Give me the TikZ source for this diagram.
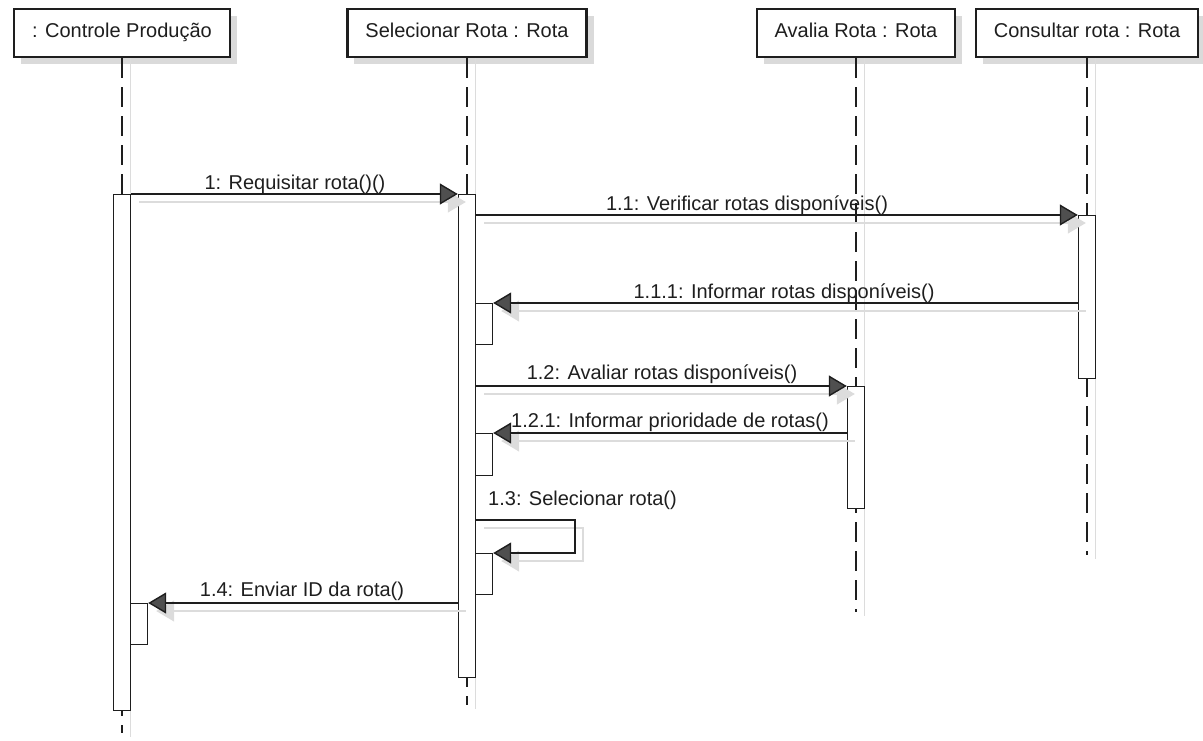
\documentclass[tikz,border=0pt]{standalone}
\usepackage{fontspec}
\setmainfont{Liberation Sans}
\usetikzlibrary{arrows.meta,shadows}
\definecolor{ink}{HTML}{1E1E1E}
\definecolor{shade}{HTML}{DADADA}
\definecolor{lineshade}{HTML}{DCDCDC}
\definecolor{tipgray}{HTML}{4F4F4F}
\tikzset{
  objbox/.style={draw=ink,fill=white,line width=2.2pt,inner xsep=18pt,minimum height=48pt,
    text height=14pt,text depth=6pt,font=\fontsize{20}{24}\selectfont,text=ink,
    drop shadow={shadow xshift=7pt,shadow yshift=-7pt,fill=shade,opacity=1}},
  lifeline/.style={draw=ink,line width=1.6pt,dash pattern=on 20pt off 9pt},
  lifeshade/.style={draw=lineshade,line width=1.6pt},
  actbox/.style={draw=ink,fill=white,line width=1.4pt,minimum width=17pt,inner sep=0pt,anchor=north},
  msgarr/.style={-{Triangle[length=18pt,width=21pt,fill=tipgray]},line width=1.4pt,draw=ink},
  msgshade/.style={-{Triangle[length=18pt,width=21pt,fill=lineshade]},line width=1.4pt,draw=lineshade},
  msglbl/.style={font=\fontsize{20}{24}\selectfont,text=ink,inner sep=0pt,anchor=base}
}

\begin{document}
\begin{tikzpicture}[x=1pt,y=-1pt]
  \useasboundingbox (0,0) rectangle (1203,740);
  % objects
  \node[objbox] (ctrl) at (122,33) {: Controle Produção};
  \node[objbox] (sel) at (467,33) {Selecionar Rota : Rota};
  \node[objbox] (aval) at (856,33) {Avalia Rota : Rota};
  \node[objbox] (cons) at (1087,33) {Consultar rota : Rota};

  % lifelines
  \coordinate (ctrlend) at (122,733);
  \coordinate (selend) at (467,705);
  \coordinate (avalend) at (856,612);
  \coordinate (consend) at (1087,555);
  \foreach \obj in {ctrl,sel,aval,cons}{
    \draw[lifeshade] ([xshift=8.5pt]\obj.south) -- ([shift={(8.5pt,-4pt)}]\obj end);
    \draw[lifeline] (\obj.south) -- (\obj end);
  }

  % activations
  \node[actbox,minimum height=516pt] (actctrl) at (122,194) {};
  \node[actbox,minimum height=483pt] (actsel) at (467,194) {};
  \node[actbox,minimum height=163pt] (actcons) at (1087,215) {};
  \node[actbox,minimum height=122pt] (actaval) at (856,386) {};
  \node[actbox,minimum height=41pt] (selret1) at (484,303) {};
  \node[actbox,minimum height=42pt] (selret2) at (484,433) {};
  \node[actbox,minimum height=41pt] (selself) at (484,553) {};
  \node[actbox,minimum height=41pt] (ctrlret) at (139,603) {};
  \coordinate (loopA) at (575,520);

  % message shadows
  \begin{scope}[transform canvas={shift={(8pt,-8pt)}}]
    \draw[msgshade] (actctrl.north east) -- (actsel.north west);
    \draw[msgshade] (actsel.east |- actcons.north) -- (actcons.north west);
    \draw[msgshade] (actcons.west |- selret1.north) -- (selret1.north east);
    \draw[msgshade] (actsel.east |- actaval.north) -- (actaval.north west);
    \draw[msgshade] (actaval.west |- selret2.north) -- (selret2.north east);
    \draw[msgshade] (actsel.east |- loopA) -- (loopA) |- (selself.north east);
    \draw[msgshade] (actsel.west |- ctrlret.north) -- (ctrlret.north east);
  \end{scope}

  % messages
  \draw[msgarr] (actctrl.north east) -- (actsel.north west);
  \draw[msgarr] (actsel.east |- actcons.north) -- (actcons.north west);
  \draw[msgarr] (actcons.west |- selret1.north) -- (selret1.north east);
  \draw[msgarr] (actsel.east |- actaval.north) -- (actaval.north west);
  \draw[msgarr] (actaval.west |- selret2.north) -- (selret2.north east);
  \draw[msgarr] (actsel.east |- loopA) -- (loopA) |- (selself.north east);
  \draw[msgarr] (actsel.west |- ctrlret.north) -- (ctrlret.north east);

  \node[msglbl] (m1) at (295,189) {1: Requisitar rota()()};
  \node[msglbl] (m11) at (747,210) {1.1: Verificar rotas disponíveis()};
  \node[msglbl] (m111) at (784,298) {1.1.1: Informar rotas disponíveis()};
  \node[msglbl] (m12) at (662,379) {1.2: Avaliar rotas disponíveis()};
  \node[msglbl] (m121) at (670,427) {1.2.1: Informar prioridade de rotas()};
  \node[msglbl,anchor=base west] (m13) at (488,505) {1.3: Selecionar rota()};
  \node[msglbl] (m14) at (302,596) {1.4: Enviar ID da rota()};
\end{tikzpicture}
\end{document}
